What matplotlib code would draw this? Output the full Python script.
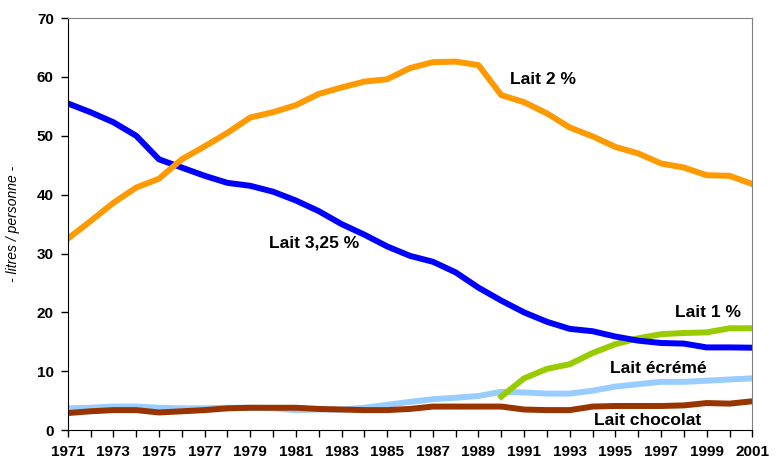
import numpy as np
import matplotlib.pyplot as plt

# Données (litres / personne)
annees = list(range(1971, 2002))
lait_325 = [55.5, 54.0, 52.3, 50.0, 46.0, 44.6, 43.2, 42.0, 41.5, 40.5,
            39.0, 37.2, 35.0, 33.2, 31.2, 29.6, 28.6, 26.8, 24.2, 22.0,
            20.0, 18.4, 17.2, 16.8, 15.9, 15.2, 14.8, 14.7, 14.05, 14.05, 14.0]
lait_2 = [32.5, 35.5, 38.6, 41.2, 42.7, 46.0, 48.2, 50.5, 53.1, 54.0,
          55.2, 57.1, 58.2, 59.2, 59.6, 61.5, 62.5, 62.6, 62.0, 56.9,
          55.7, 53.8, 51.4, 49.9, 48.1, 47.0, 45.3, 44.6, 43.3, 43.2, 41.8]
annees_1 = list(range(1990, 2002))
lait_1 = [5.7, 8.8, 10.4, 11.2, 13.1, 14.6, 15.6, 16.3, 16.5, 16.6, 17.3, 17.3]
lait_ecreme = [3.7, 3.8, 4.0, 4.0, 3.8, 3.7, 3.7, 3.8, 3.8, 3.7,
               3.4, 3.5, 3.5, 3.8, 4.3, 4.8, 5.25, 5.5, 5.8, 6.5,
               6.4, 6.2, 6.2, 6.7, 7.4, 7.8, 8.2, 8.2, 8.4, 8.6, 8.8]
lait_choco = [2.9, 3.2, 3.4, 3.4, 3.0, 3.2, 3.4, 3.7, 3.8, 3.8,
              3.8, 3.6, 3.5, 3.4, 3.4, 3.6, 4.0, 4.0, 4.0, 4.0,
              3.5, 3.4, 3.4, 4.0, 4.1, 4.1, 4.1, 4.2, 4.6, 4.5, 4.9]

fig = plt.figure(figsize=(7.78, 4.62), dpi=100)
ax = fig.add_axes([0.087, 0.069, 0.880, 0.892])

lw = 4.3
ax.plot(annees, lait_ecreme, color='#99CCFF', lw=lw)
ax.plot(annees, lait_choco, color='#993300', lw=lw)
ax.plot(annees_1, lait_1, color='#99CC00', lw=lw)
ax.plot(annees, lait_325, color='#0000FF', lw=lw)
ax.plot(annees, lait_2, color='#FF9900', lw=lw)

ax.set_xlim(1971, 2001)
ax.set_ylim(0, 70)
ax.set_xticks(range(1971, 2002, 2))
ax.set_xticks(range(1971, 2002), minor=True)
ax.set_yticks(range(0, 71, 10))
ax.tick_params(axis='both', which='both', direction='out', length=5, width=1, colors='black')
ax.tick_params(axis='x', pad=6)
ax.tick_params(axis='y', pad=5)
for lab in ax.get_xticklabels() + ax.get_yticklabels():
    lab.set_fontweight('bold')
    lab.set_fontsize(11)
    lab.set_family('Liberation Sans')

for s in ['top', 'right']:
    ax.spines[s].set_color('#808080')
for s in ['left', 'bottom']:
    ax.spines[s].set_color('black')

ax.set_ylabel('- litres / personne -', fontstyle='italic', fontsize=10,
              family='Liberation Sans', labelpad=12)

etiq = dict(fontweight='bold', fontsize=12.5, family='Liberation Sans')
ax.text(1990.4, 59.5, 'Lait 2 %', va='center', **etiq)
ax.text(1979.8, 31.8, 'Lait 3,25 %', va='center', **etiq)
ax.text(1997.6, 19.9, 'Lait 1 %', va='center', **etiq)
ax.text(1996.9, 10.4, 'Lait écrémé', va='center', ha='center', **etiq)
ax.text(1996.4, 1.7, 'Lait chocolat', va='center', ha='center', **etiq)

plt.savefig('out.png')
plt.close()
